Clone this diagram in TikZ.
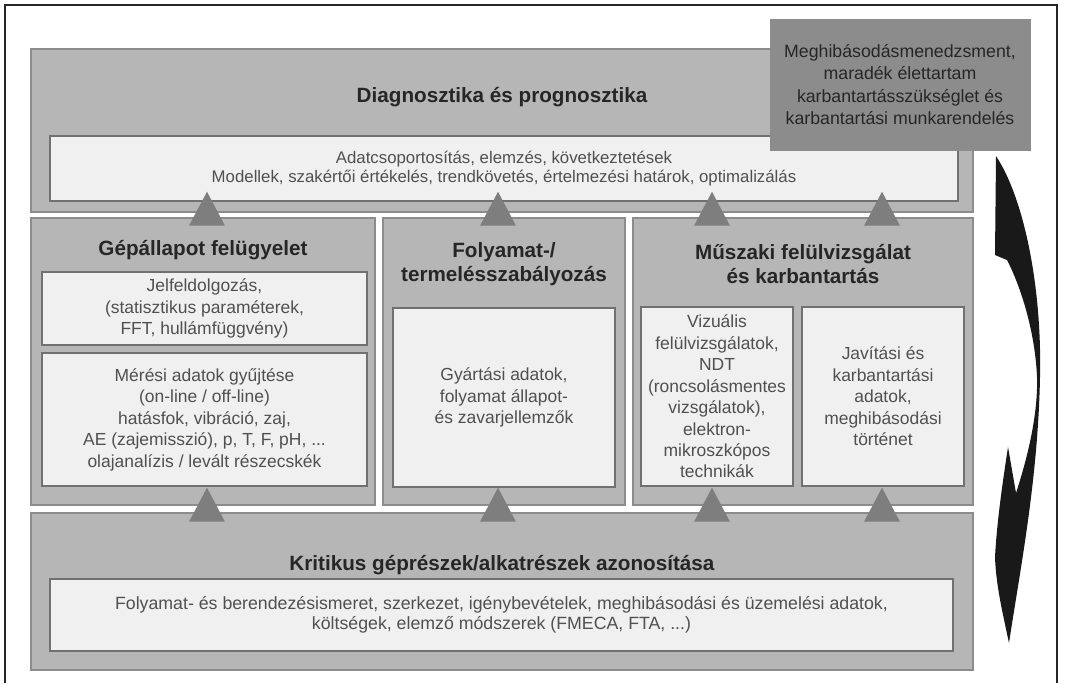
\documentclass[tikz,border=0pt]{standalone}
\usepackage{fontspec}
\setmainfont{Liberation Sans}
\usetikzlibrary{shapes.geometric, fit}
\definecolor{panelgray}{HTML}{B6B6B6}
\definecolor{paneledge}{HTML}{8C8C8C}
\definecolor{inwhite}{HTML}{F0F0F0}
\definecolor{inedge}{HTML}{707070}
\definecolor{notegray}{HTML}{8C8C8C}
\definecolor{trigray}{HTML}{7E7E7E}
\definecolor{bodytext}{HTML}{505050}
\definecolor{headtext}{HTML}{262626}
\tikzset{
  panel/.style={rectangle, draw=paneledge, fill=panelgray, line width=1pt, inner sep=0pt},
  inbox/.style={rectangle, draw=inedge, fill=inwhite, line width=0.8pt, inner sep=0pt},
  body/.style={align=center, text=bodytext, inner sep=0pt, font=\fontsize{13.1}{16.1}\selectfont},
  widebody/.style={body, font=\fontsize{13.3}{14.6}\selectfont},
  head/.style={align=center, text=headtext, font=\bfseries\fontsize{15.5}{17.5}\selectfont},
  note/.style={rectangle, draw=paneledge, fill=notegray, inner sep=0pt},
  notetext/.style={align=center, text=headtext, inner sep=0pt, font=\fontsize{13.3}{16.8}\selectfont},
  tri/.style={isosceles triangle, isosceles triangle stretches, shape border rotate=90, minimum width=27pt, minimum height=25.5pt, inner sep=0pt, fill=trigray, anchor=south},
  frame/.style={line width=1.5pt, draw=black!85},
}

\begin{document}
\begin{tikzpicture}[x=0.75pt, y=-0.75pt]
  \useasboundingbox (0,0) rectangle (1067,683);
  \draw[frame] (5,683) -- (5,5) -- (1057,5) -- (1057,683);

  % diagnosztika
  \node[panel, fit={(31,49) (973,212)}] (diag) {};
  \node[head] (diagT) at (502,97) {Diagnosztika és prognosztika};
  \node[inbox, fit={(50,136) (958,201)}] (diagI) {};
  \node[widebody, font=\fontsize{12.6}{14.4}\selectfont] (diagTx) at (diagI) {Adatcsoportosítás, elemzés, következtetések\\Modellek, szakértői értékelés, trendkövetés, értelmezési határok, optimalizálás};
  \node[note, fit={(770,19) (1030,150)}] (meghib) {};
  \node[notetext] (meghibTx) at (meghib) {Meghibásodásmenedzsment,\\maradék élettartam\\karbantartásszükséglet és\\karbantartási munkarendelés};

  % gépállapot
  \node[panel, fit={(31,218) (375,505)}] (gep) {};
  \node[head] (gepT) at (203,250) {Gépállapot felügyelet};
  \node[inbox, fit={(42,272) (367,345)}] (jel) {};
  \node[body] (jelTx) at (jel) {Jelfeldolgozás,\\(statisztikus paraméterek,\\FFT, hullámfüggvény)};
  \node[inbox, fit={(42,353) (367,486)}] (meres) {};
  \node[body] (meresTx) at (meres) {Mérési adatok gyűjtése\\(on-line / off-line)\\hatásfok, vibráció, zaj,\\AE (zajemisszió), p, T, F, pH, ...\\olajanalízis / levált részecskék};

  % folyamat
  \node[panel, fit={(383,218) (625,505)}] (foly) {};
  \node[head] (folyT) at (504,264) {Folyamat-/\\termelésszabályozás};
  \node[inbox, fit={(393,308) (615,487)}] (gyart) {};
  \node[body] (gyartTx) at (gyart) {Gyártási adatok,\\folyamat állapot-\\és zavarjellemzők};

  % műszaki
  \node[panel, fit={(633,218) (973,505)}] (musz) {};
  \node[head] (muszT) at (803,264) {Műszaki felülvizsgálat\\és karbantartás};
  \node[inbox, fit={(641,307) (793,486)}] (vizu) {};
  \node[body] (vizuTx) at (vizu) {Vizuális\\felülvizsgálatok,\\NDT\\(roncsolásmentes\\vizsgálatok),\\elektron-\\mikroszkópos\\technikák};
  \node[inbox, fit={(802,307) (964,486)}] (javit) {};
  \node[body] (javitTx) at (javit) {Javítási és\\karbantartási\\adatok,\\meghibásodási\\történet};

  % kritikus géprészek
  \node[panel, fit={(31,513) (973,670)}] (krit) {};
  \node[head] (kritT) at (502,565) {Kritikus géprészek/alkatrészek azonosítása};
  \node[inbox, fit={(50,579) (953,651)}] (ismeret) {};
  \node[widebody] (ismeretTx) at (ismeret) {Folyamat- és berendezésismeret, szerkezet, igénybevételek, meghibásodási és üzemelési adatok,\\költségek, elemző módszerek (FMECA, FTA, ...)};

  % felfelé mutató háromszögek
  \foreach \x [count=\i] in {207,498,712,882} {
    \node[tri] (up\i) at (\x,226) {};
    \node[tri] (lo\i) at (\x,522) {};
  }

  % visszacsatoló nyíl
  \fill[black!90] (996,156) .. controls (1025,200) and (1042,290) .. (1040,377)
    .. controls (1038,480) and (1020,570) .. (1009,643)
    .. controls (1002,610) and (996,585) .. (995,557)
    .. controls (997,520) and (1003,480) .. (1008,447)
    -- (1016,493)
    .. controls (1030,450) and (1038,410) .. (1037,377)
    .. controls (1035,330) and (1020,285) .. (1007,260)
    -- (995,255) -- cycle;
\end{tikzpicture}
\end{document}
